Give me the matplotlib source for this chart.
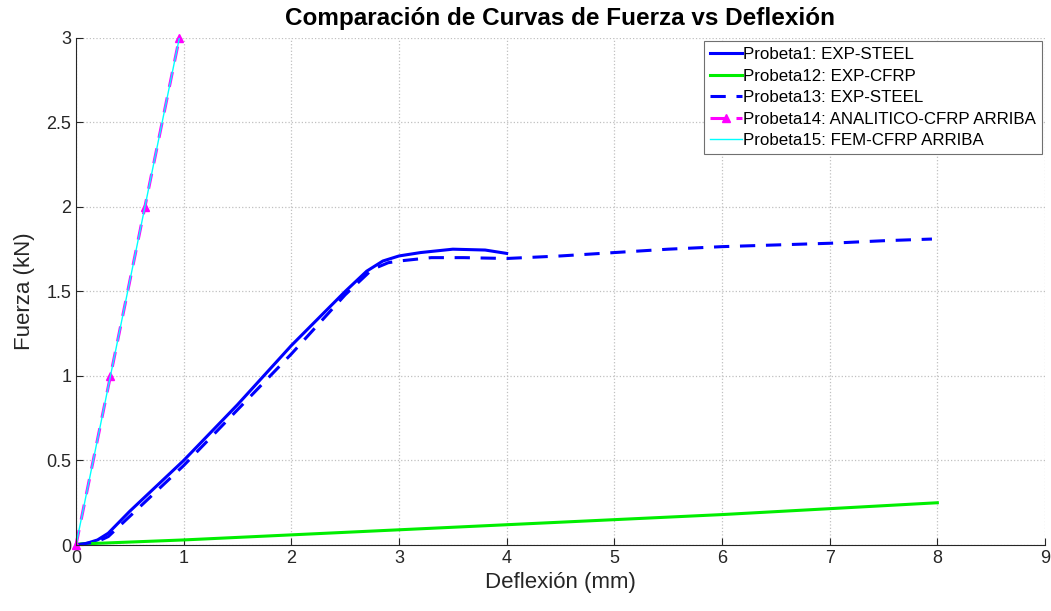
import matplotlib.pyplot as plt

plt.rcParams['font.family'] = ['Liberation Sans', 'DejaVu Sans']

# Curvas fuerza-deflexion
def1 = [0, 0.1, 0.2, 0.3, 0.5, 1.0, 1.5, 2.0, 2.5, 2.7, 2.85, 3.0, 3.2, 3.5, 3.8, 4.0]
fuerza1 = [0, 0.01, 0.03, 0.07, 0.2, 0.5, 0.83, 1.18, 1.5, 1.62, 1.68, 1.71, 1.73, 1.75, 1.745, 1.725]

def12 = [0, 1, 2, 3, 4, 5, 6, 7, 8]
fuerza12 = [0.005, 0.03, 0.06, 0.09, 0.12, 0.15, 0.18, 0.215, 0.25]

def13 = [0, 0.1, 0.2, 0.3, 0.5, 1.0, 1.5, 2.0, 2.5, 2.75, 2.9, 3.0, 3.3, 3.6, 4.0, 4.5, 5.0, 5.5, 6.0, 6.5, 7.0, 7.5, 7.95]
fuerza13 = [0, 0.01, 0.02, 0.05, 0.17, 0.47, 0.8, 1.13, 1.48, 1.63, 1.67, 1.68, 1.7, 1.7, 1.695, 1.71, 1.73, 1.75, 1.765, 1.775, 1.785, 1.8, 1.81]

def14 = [0, 0.32, 0.64, 0.96]
fuerza14 = [0, 1, 2, 3]

def15 = [0, 0.96]
fuerza15 = [0, 3]

fig = plt.figure(figsize=(10.51, 6.11), dpi=100)
ax = fig.add_axes([0.0723, 0.108, 0.922, 0.83])

ax.plot(def1, fuerza1, color='#0000ff', lw=2.2, label='Probeta1: EXP-STEEL')
ax.plot(def12, fuerza12, color='#00ee00', lw=2.2, label='Probeta12: EXP-CFRP')
ax.plot(def13, fuerza13, color='#0000ff', lw=2.2, ls=(0, (5, 3.5)), label='Probeta13: EXP-STEEL')
ax.plot(def14, fuerza14, color='#ff00ff', lw=2.2, ls=(0, (5, 3.5)), marker='^', ms=6,
        clip_on=False, label='Probeta14: ANALITICO-CFRP ARRIBA')
ax.plot(def15, fuerza15, color='#00ffff', lw=1, label='Probeta15: FEM-CFRP ARRIBA')

ax.set_xlim(0, 9)
ax.set_ylim(0, 3)
ax.set_xticks(range(10))
ax.set_yticks([0, 0.5, 1, 1.5, 2, 2.5, 3])
ax.set_yticklabels(['0', '0.5', '1', '1.5', '2', '2.5', '3'])
ax.grid(True, ls=':', color='#c0c0c0', lw=0.9)
ax.tick_params(direction='in', labelsize=13, colors='#262626', length=5)
for s in ['top', 'right']:
    ax.spines[s].set_visible(False)
for s in ['left', 'bottom']:
    ax.spines[s].set_color('#262626')

ax.set_xlabel('Deflexión (mm)', fontsize=16, color='#262626', labelpad=4)
ax.set_ylabel('Fuerza (kN)', fontsize=16, color='#262626', labelpad=8)
ax.set_title('Comparación de Curvas de Fuerza vs Deflexión', fontsize=17.5, fontweight='bold', pad=9)

leg = ax.legend(loc='upper right', fontsize=12.2, handlelength=1.9, handletextpad=0.05,
                labelspacing=0.38, borderaxespad=0.2, fancybox=False, framealpha=1,
                edgecolor='#707070', borderpad=0.35)
leg.get_frame().set_linewidth(0.8)

plt.savefig('out.png', dpi=100)
plt.close()
